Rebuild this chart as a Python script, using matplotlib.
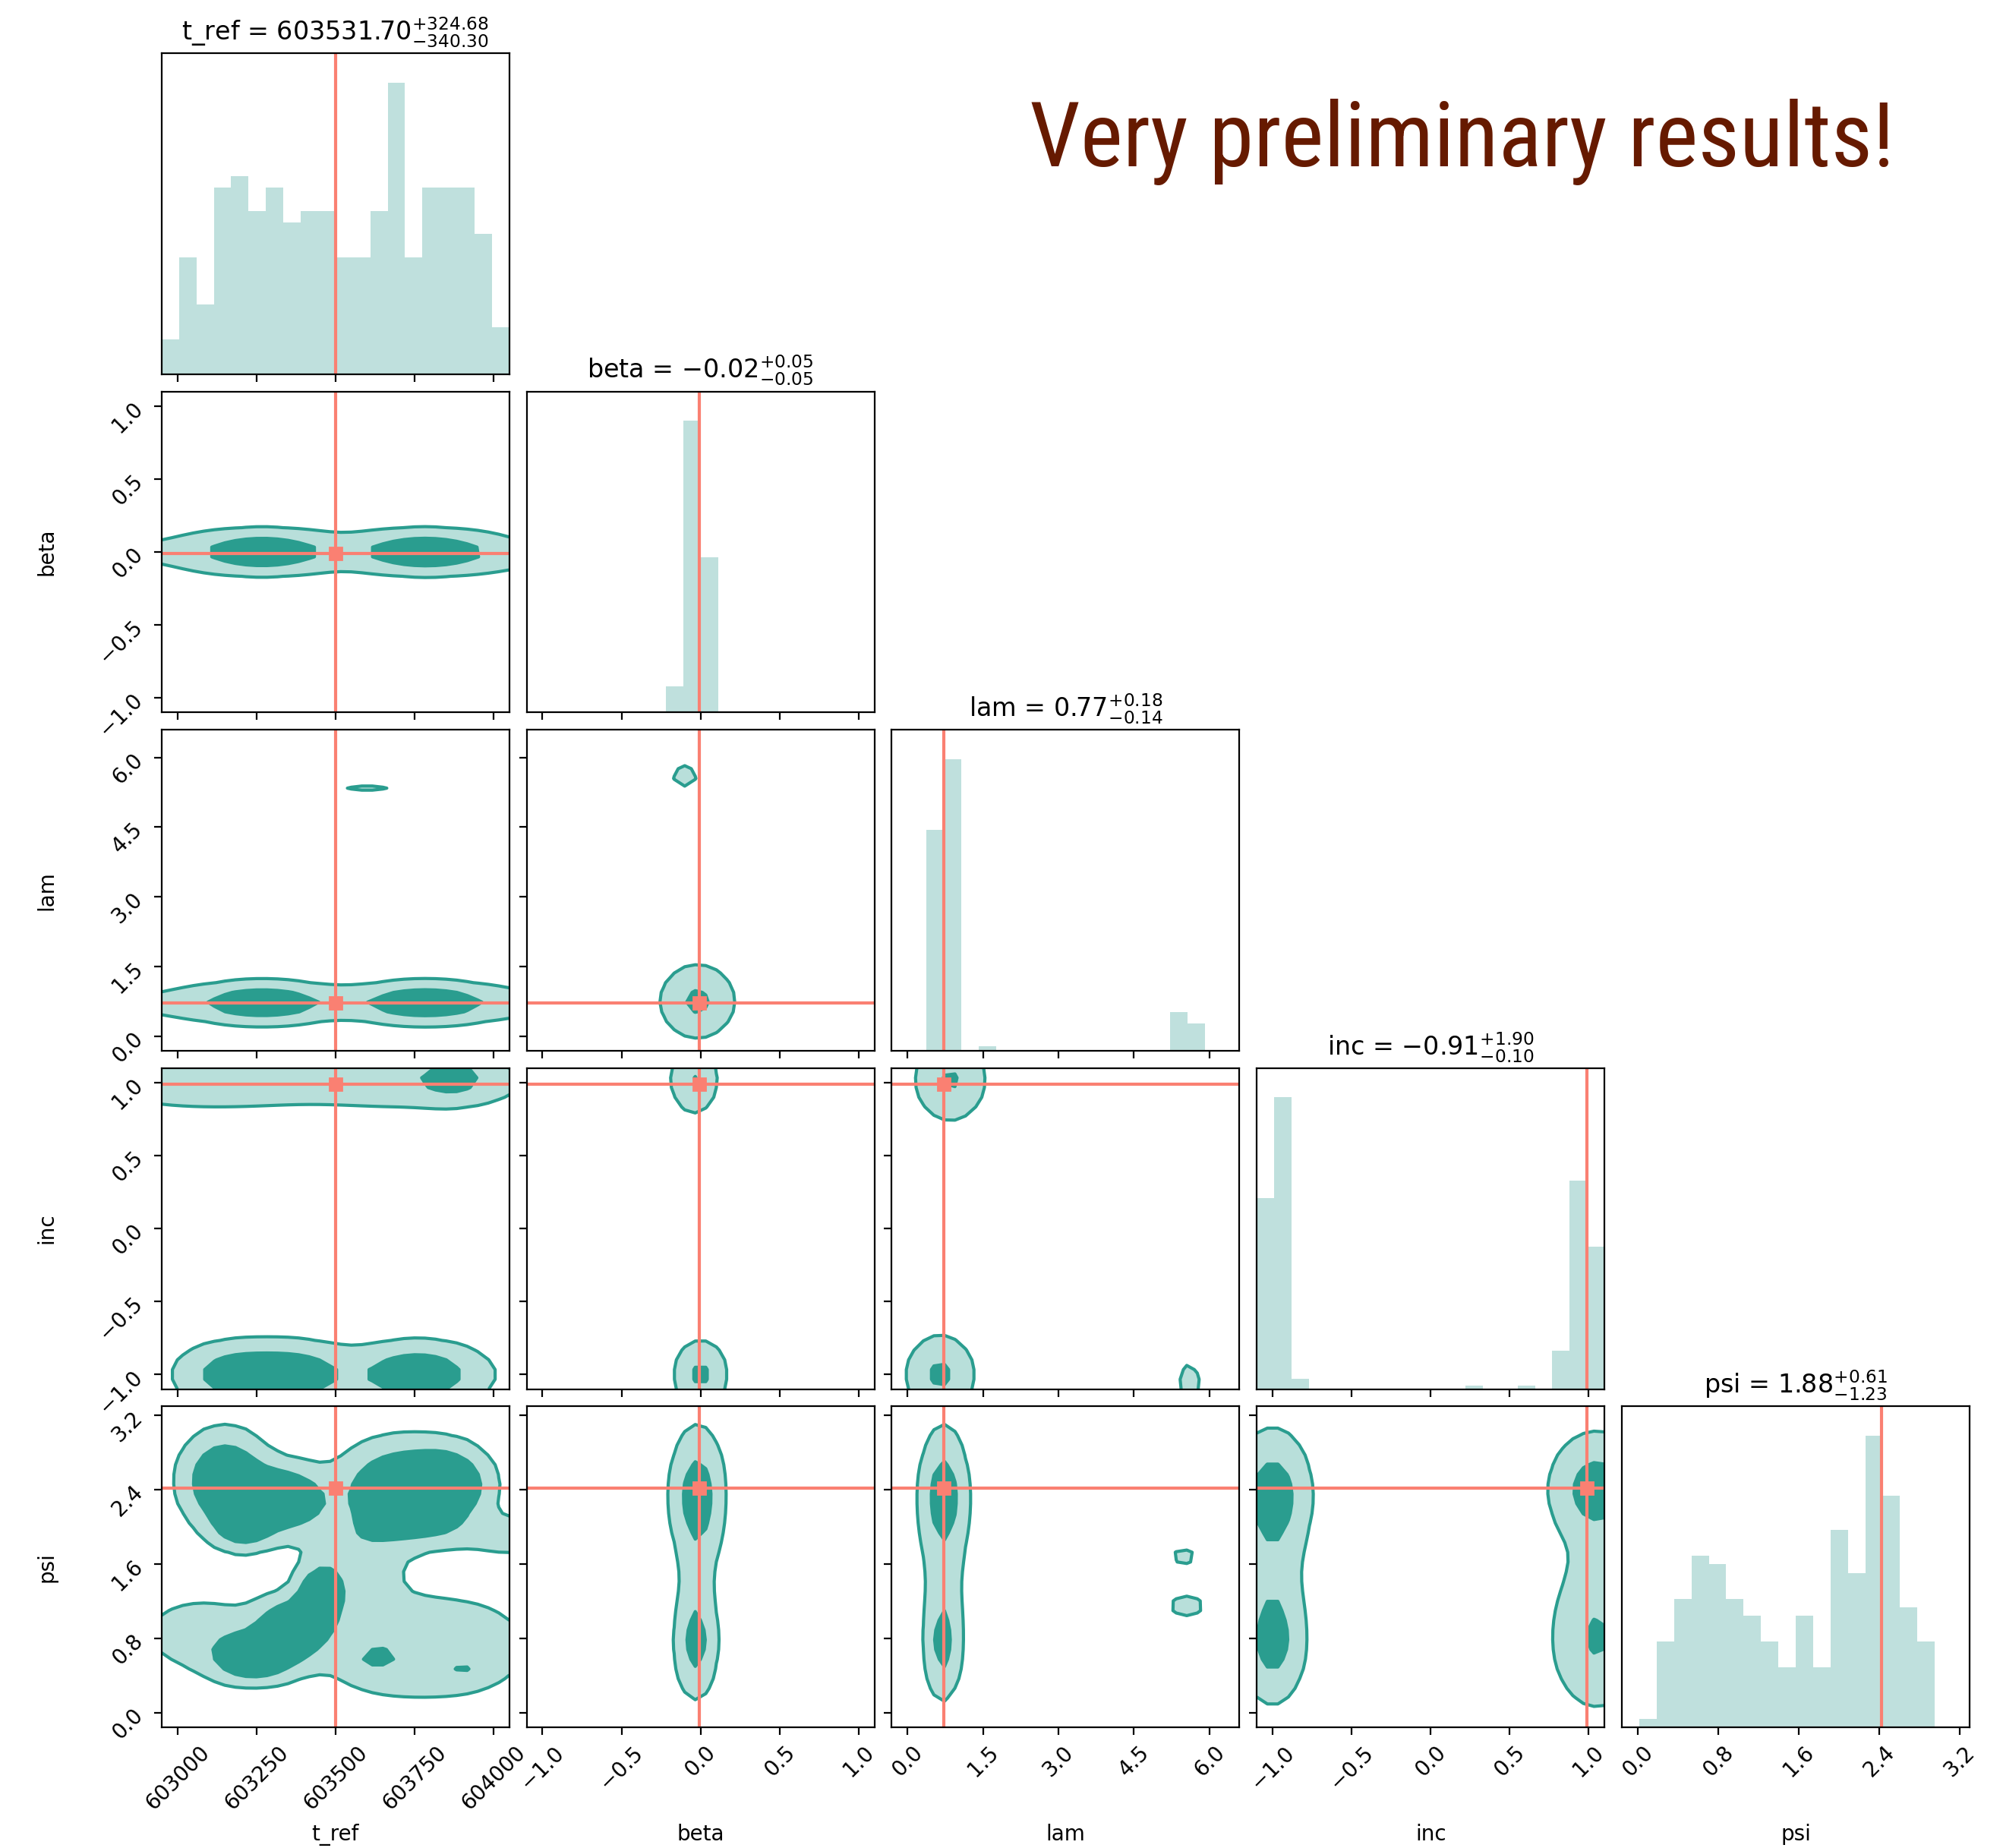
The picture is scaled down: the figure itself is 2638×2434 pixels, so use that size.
import numpy as np
import matplotlib.pyplot as plt
from matplotlib import font_manager
from matplotlib.ticker import FixedLocator, ScalarFormatter

# parameters, plotting ranges and injected values
names = ["t_ref", "beta", "lam", "inc", "psi"]
lo = [602950, -1.1, -0.1 * np.pi, -1.1, -0.05 * np.pi]
hi = [604050, 1.1, 2.1 * np.pi, 1.1, 1.05 * np.pi]
truths = [603500, -0.01, 0.72, 0.99, 2.42]
medians = [603531.70, -0.02, 0.77, -0.91, 1.88]
err_lo = [340.30, 0.05, 0.14, 0.10, 1.23]
err_hi = [324.68, 0.05, 0.18, 1.90, 0.61]
ticks = [
    [603000, 603250, 603500, 603750, 604000],
    [-1.0, -0.5, 0.0, 0.5, 1.0],
    [0.0, 1.5, 3.0, 4.5, 6.0],
    [-1.0, -0.5, 0.0, 0.5, 1.0],
    [0.0, 0.8, 1.6, 2.4, 3.2],
]

# 1d histograms, 20 bins over each range
counts_t_ref = [3, 10, 6, 16, 17, 14, 16, 13, 14, 14, 10, 10, 14, 25, 10, 16, 16, 16, 12, 4]
counts_beta = [0, 0, 0, 0, 0, 0, 0, 0, 14, 158, 84, 0, 0, 0, 0, 0, 0, 0, 0, 0]
counts_lam = [0, 0, 97, 128, 0, 2, 0, 0, 0, 0, 0, 0, 0, 0, 0, 0, 17, 12, 0, 0]
counts_inc = [55, 84, 3, 0, 0, 0, 0, 0, 0, 0, 0, 0, 1, 0, 0, 1, 0, 11, 60, 41]
counts_psi = [0, 1, 10, 15, 20, 19, 15, 13, 10, 7, 13, 7, 23, 18, 34, 27, 14, 10, 0, 0]
counts = [counts_t_ref, counts_beta, counts_lam, counts_inc, counts_psi]

# 2d density blobs: (x0, y0, sigma_x, sigma_y, peak)
blobs_beta_t = [(603270, 0.0, 150, 0.09, 1.2), (603780, 0.0, 150, 0.09, 1.2),
                (602900, 0.0, 150, 0.09, 0.2), (604100, -0.02, 150, 0.09, 0.2)]
blobs_lam_t = [(603270, 0.72, 150, 0.26, 1.2), (603780, 0.72, 150, 0.26, 1.2),
               (602900, 0.7, 150, 0.26, 0.2), (604100, 0.7, 150, 0.26, 0.2),
               (603600, 5.38, 90, 0.07, 0.3)]
blobs_inc_t = [(603100, 1.0, 250, 0.12, 0.5), (603750, 1.0, 250, 0.12, 0.5),
               (603875, 1.05, 70, 0.10, 0.6),
               (603180, -1.0, 110, 0.13, 1.0), (603380, -1.0, 110, 0.13, 1.0),
               (603760, -1.0, 130, 0.13, 1.2)]
blobs_psi_t = [(603150, 2.5, 80, 0.3, 1.5), (603330, 2.3, 90, 0.22, 1.5),
               (603210, 2.0, 60, 0.15, 1.0),
               (603700, 2.4, 110, 0.3, 1.5), (603860, 2.45, 80, 0.25, 1.3),
               (604050, 1.9, 80, 0.15, 0.35), (603800, 1.95, 150, 0.12, 0.35),
               (603560, 1.65, 100, 0.35, 0.5),
               (603240, 0.6, 80, 0.16, 1.5), (603360, 0.9, 70, 0.2, 1.5),
               (603450, 1.25, 45, 0.2, 1.3),
               (603650, 0.7, 150, 0.35, 0.45), (603900, 0.7, 150, 0.35, 0.45),
               (603080, 0.85, 140, 0.28, 0.4),
               (603625, 0.58, 40, 0.08, 0.4), (603905, 0.45, 30, 0.06, 0.35)]
blobs_lam_beta = [(-0.02, 0.75, 0.14, 0.47, 0.8), (-0.1, 5.6, 0.08, 0.25, 0.3)]
blobs_inc_beta = [(-0.04, 1.02, 0.09, 0.14, 0.72), (0.0, -1.0, 0.1, 0.14, 0.8)]
blobs_inc_lam = [(0.85, 1.02, 0.42, 0.17, 0.75), (0.65, -1.0, 0.4, 0.16, 0.8),
                 (5.6, -1.05, 0.2, 0.12, 0.32)]
blobs_psi_beta = [(-0.02, 2.35, 0.1, 0.42, 1.0), (-0.03, 0.75, 0.08, 0.35, 0.9),
                  (-0.02, 1.55, 0.08, 0.4, 0.25)]
blobs_psi_lam = [(0.72, 2.35, 0.28, 0.42, 1.0), (0.7, 0.75, 0.22, 0.36, 0.9),
                 (0.72, 1.55, 0.3, 0.4, 0.25), (5.5, 1.68, 0.29, 0.09, 0.28),
                 (5.55, 1.15, 0.35, 0.12, 0.3)]
blobs_psi_inc = [(-1.0, 2.35, 0.14, 0.4, 1.0), (-1.0, 0.75, 0.12, 0.38, 0.9),
                 (-1.0, 1.5, 0.12, 0.4, 0.35), (1.05, 2.4, 0.17, 0.35, 1.0),
                 (1.05, 0.8, 0.17, 0.45, 0.75), (1.05, 1.55, 0.15, 0.3, 0.15)]
blobs = {(1, 0): blobs_beta_t, (2, 0): blobs_lam_t, (3, 0): blobs_inc_t,
         (4, 0): blobs_psi_t, (2, 1): blobs_lam_beta, (3, 1): blobs_inc_beta,
         (3, 2): blobs_inc_lam, (4, 1): blobs_psi_beta, (4, 2): blobs_psi_lam,
         (4, 3): blobs_psi_inc}
levels = [0.2, 0.7]

light = "#b8dfda"
dark = "#2a9d8f"
hist_col = "#bfe0dd"
truth_col = "#fa8072"

K = len(names)
fig, axes = plt.subplots(K, K, figsize=(26.38 / 2, 24.34 / 2), dpi=200)
fig.subplots_adjust(left=0.0807, right=0.9833, bottom=0.0653, top=0.9712,
                    wspace=0.05, hspace=0.054)

for i in range(K):
    for j in range(K):
        ax = axes[i, j]
        if j > i:
            ax.set_frame_on(False)
            ax.set_xticks([])
            ax.set_yticks([])
            continue
        ax.set_xlim(lo[j], hi[j])
        if i == j:
            edges = np.linspace(lo[i], hi[i], 21)
            mids = 0.5 * (edges[1:] + edges[:-1])
            ax.hist(mids, bins=edges, weights=counts[i], histtype="stepfilled",
                    color=hist_col)
            ax.set_ylim(0, 1.1 * max(counts[i]))
            ax.set_yticks([])
            ax.axvline(truths[i], color=truth_col, lw=1.5)
            title = "{} = ${:.2f}_{{-{:.2f}}}^{{+{:.2f}}}$".format(
                names[i], medians[i], err_lo[i], err_hi[i])
            ax.set_title(title, fontsize=12)
        else:
            ax.set_ylim(lo[i], hi[i])
            x = np.linspace(lo[j], hi[j], 34)
            y = np.linspace(lo[i], hi[i], 34)
            X, Y = np.meshgrid(x, y)
            Z = np.zeros_like(X)
            for x0, y0, sx, sy, a in blobs[(i, j)]:
                Z += a * np.exp(-0.5 * ((X - x0) / sx) ** 2 - 0.5 * ((Y - y0) / sy) ** 2)
            ax.contourf(X, Y, Z, levels=[levels[0], levels[1], Z.max() + 10],
                        colors=[light, dark])
            ax.contour(X, Y, Z, levels=levels, colors=dark, linewidths=1.5)
            ax.axvline(truths[j], color=truth_col, lw=1.5)
            ax.axhline(truths[i], color=truth_col, lw=1.5)
            ax.plot(truths[j], truths[i], "s", color=truth_col, ms=6)
            ax.yaxis.set_major_locator(FixedLocator(ticks[i]))
            if j == 0:
                ax.yaxis.set_major_formatter(ScalarFormatter(useOffset=False))
                for lab in ax.get_yticklabels():
                    lab.set_rotation(45)
                ax.set_ylabel(names[i], fontsize=10)
                ax.yaxis.set_label_coords(-0.3, 0.5)
            else:
                ax.set_yticklabels([])
        ax.xaxis.set_major_locator(FixedLocator(ticks[j]))
        if i == K - 1:
            ax.xaxis.set_major_formatter(ScalarFormatter(useOffset=False))
            for lab in ax.get_xticklabels():
                lab.set_rotation(45)
            ax.set_xlabel(names[j], fontsize=10)
            ax.xaxis.set_label_coords(0.5, -0.3)
        else:
            ax.set_xticklabels([])

# narrow sans for the banner, whichever is installed
installed = {f.name for f in font_manager.fontManager.ttflist}
banner_font = "Liberation Sans"
for fam in ["Liberation Sans Narrow", "Arial Narrow", "Roboto Condensed", "Roboto"]:
    if fam in installed:
        banner_font = fam
        break
banner = fig.text(0.514, 0.910, "Very preliminary results!", fontsize=45,
                  family=banner_font, color="#661a00", ha="left", va="baseline")
fig.canvas.draw()
w = banner.get_window_extent().width
if w > 1140:
    banner.set_fontsize(45 * 1140 / w)

fig.savefig("out.png", dpi=200)
